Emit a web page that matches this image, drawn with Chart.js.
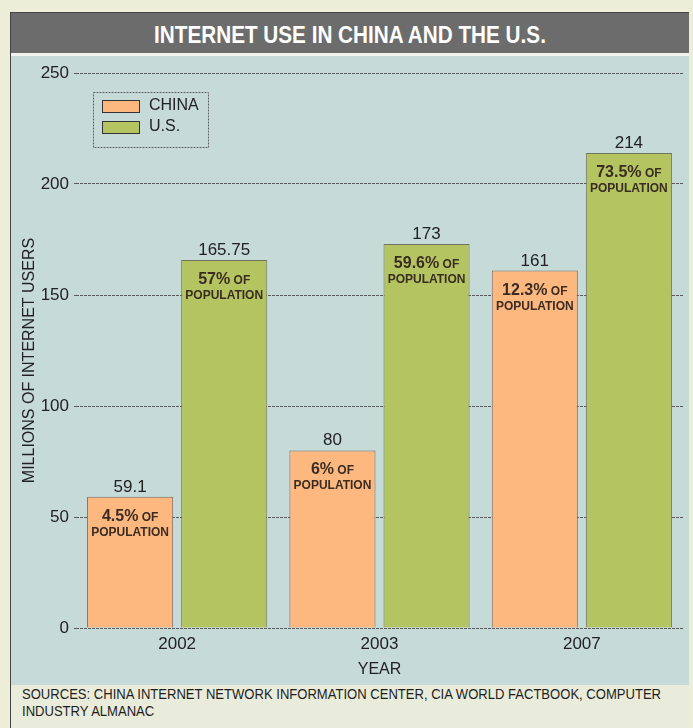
<!DOCTYPE html>
<html>
<head>
<meta charset="utf-8">
<script src="https://cdn.jsdelivr.net/npm/chart.js@4"></script>
<style>
  body { margin: 0; background: #eceed8; width: 693px; height: 728px; overflow: hidden;
         font-family: "Liberation Sans", Arial, sans-serif; }
  #frame { position: absolute; left: 10px; top: 12px; width: 678px; height: 716px;
           border-left: 1px solid #444; border-top: 1px solid #444; background: #e9ecdb; }
  #title { height: 40px; background: #6c6c6c; border-bottom: 3px solid #f2f3ee; }
  #title span { display: block; color: #fff; font-weight: bold; font-size: 23px; line-height: 44px;
                text-align: center; transform: scaleX(0.9); }
  #panel { position: absolute; left: 0; top: 43px; width: 678px; height: 629px; background: #c6dad8; }
  #source { position: absolute; left: 11px; top: 673px; width: 740px; font-size: 14.5px; line-height: 17px;
            color: #1e1e1e; transform: scaleX(0.9); transform-origin: left top; }
</style>
</head>
<body>
<div id="frame">
  <div id="title"><span>INTERNET USE IN CHINA AND THE U.S.</span></div>
  <div id="panel"><canvas id="usersChart" width="678" height="629"></canvas></div>
  <div id="source">SOURCES: CHINA INTERNET NETWORK INFORMATION CENTER, CIA WORLD FACTBOOK, COMPUTER<br>INDUSTRY ALMANAC</div>
</div>
<script>
// Chart data
const years = ['2002', '2003', '2007'];
const chinaUsers = [59.1, 80, 161];
const usUsers = [165.75, 173, 214];
const chinaShare = ['4.5%', '6%', '12.3%'];
const usShare = ['57%', '59.6%', '73.5%'];
const yTicks = [0, 50, 100, 150, 200, 250];
const yTitle = 'MILLIONS OF INTERNET USERS';

const shares = [chinaShare, usShare];

// Legend box in the top left of the plot
const legendBox = {
  id: 'legendBox',
  afterDraw(chart) {
    const ctx = chart.ctx;
    const a = chart.chartArea;
    const x = a.left + 17, y = a.top + 19;
    ctx.save();
    ctx.strokeStyle = '#666';
    ctx.lineWidth = 1;
    ctx.setLineDash([2, 1]);
    ctx.strokeRect(x + 0.5, y + 0.5, 115, 55);
    ctx.setLineDash([]);
    chart.data.datasets.forEach((ds, i) => {
      const sy = y + 8 + i * 21;
      ctx.fillStyle = ds.backgroundColor;
      ctx.fillRect(x + 9, sy, 37, 12);
      ctx.strokeStyle = '#333';
      ctx.strokeRect(x + 9.5, sy + 0.5, 37, 12);
      ctx.fillStyle = '#222';
      ctx.font = '16px "Liberation Sans", sans-serif';
      ctx.textBaseline = 'middle';
      ctx.fillText(ds.label, x + 56, sy + 6);
    });
    ctx.restore();
  }
};

// Rotated y axis title, placed a bit lower than centre like the original
const yAxisTitle = {
  id: 'yAxisTitle',
  afterDraw(chart) {
    const ctx = chart.ctx;
    const a = chart.chartArea;
    ctx.save();
    ctx.translate(19, (a.top + a.bottom) / 2 + 10);
    ctx.rotate(-Math.PI / 2);
    ctx.fillStyle = '#222';
    ctx.font = '16px "Liberation Sans", sans-serif';
    ctx.textAlign = 'center';
    ctx.textBaseline = 'middle';
    ctx.fillText(yTitle, 0, 0);
    ctx.restore();
  }
};

// Values above the bars and population share inside them
const barLabels = {
  id: 'barLabels',
  afterDatasetsDraw(chart) {
    const ctx = chart.ctx;
    ctx.save();
    ctx.textBaseline = 'alphabetic';
    chart.data.datasets.forEach((ds, i) => {
      chart.getDatasetMeta(i).data.forEach((bar, j) => {
        const x = bar.x, top = bar.y;
        ctx.fillStyle = '#222';
        ctx.textAlign = 'center';
        ctx.font = '17px "Liberation Sans", sans-serif';
        ctx.fillText(String(ds.data[j]), x, top - 5);

        // first line: big percentage + small "OF"
        const big = shares[i][j];
        ctx.font = 'bold 16px "Liberation Sans", sans-serif';
        const wBig = ctx.measureText(big).width;
        ctx.font = 'bold 12px "Liberation Sans", sans-serif';
        const wOf = ctx.measureText(' OF').width;
        const start = x - (wBig + wOf) / 2;
        ctx.fillStyle = '#3a2c22';
        ctx.textAlign = 'left';
        ctx.font = 'bold 16px "Liberation Sans", sans-serif';
        ctx.fillText(big, start, top + 24);
        ctx.font = 'bold 12px "Liberation Sans", sans-serif';
        ctx.fillText(' OF', start + wBig, top + 24);
        ctx.textAlign = 'center';
        ctx.fillText('POPULATION', x, top + 39);
      });
    });
    ctx.restore();
  }
};

const ctx = document.getElementById('usersChart').getContext('2d');
new Chart(ctx, {
  type: 'bar',
  data: {
    labels: years,
    datasets: [
      { label: 'CHINA', data: chinaUsers, backgroundColor: '#fdb880', borderColor: '#7d6a5c', borderWidth: 1 },
      { label: 'U.S.', data: usUsers, backgroundColor: '#b4c460', borderColor: '#6f7560', borderWidth: 1 }
    ]
  },
  options: {
    responsive: false,
    animation: false,
    categoryPercentage: 0.93,
    barPercentage: 0.915,
    layout: { padding: { top: 17, right: 6, left: 0, bottom: 0 } },
    plugins: {
      legend: { display: false },
      tooltip: { enabled: false }
    },
    scales: {
      x: {
        grid: { display: false, drawTicks: false },
        border: { display: false },
        ticks: { color: '#222', font: { size: 17, family: '"Liberation Sans", sans-serif' }, padding: 6 },
        title: { display: true, text: 'YEAR', color: '#222', font: { size: 16, family: '"Liberation Sans", sans-serif' }, padding: { top: 2, bottom: 6 } },
        afterFit(scale) { scale.height = 57; }
      },
      y: {
        min: 0,
        max: 250,
        afterBuildTicks(scale) { scale.ticks = yTicks.map(v => ({ value: v })); },
        grid: { color: '#5a5a5a', lineWidth: 1, tickLength: 2 },
        border: { display: false, dash: [3, 1] },
        ticks: { color: '#222', font: { size: 17, family: '"Liberation Sans", sans-serif' }, padding: 5 },
        afterFit(scale) { scale.width = 65; }
      }
    }
  },
  plugins: [legendBox, yAxisTitle, barLabels]
});
</script>
</body>
</html>
